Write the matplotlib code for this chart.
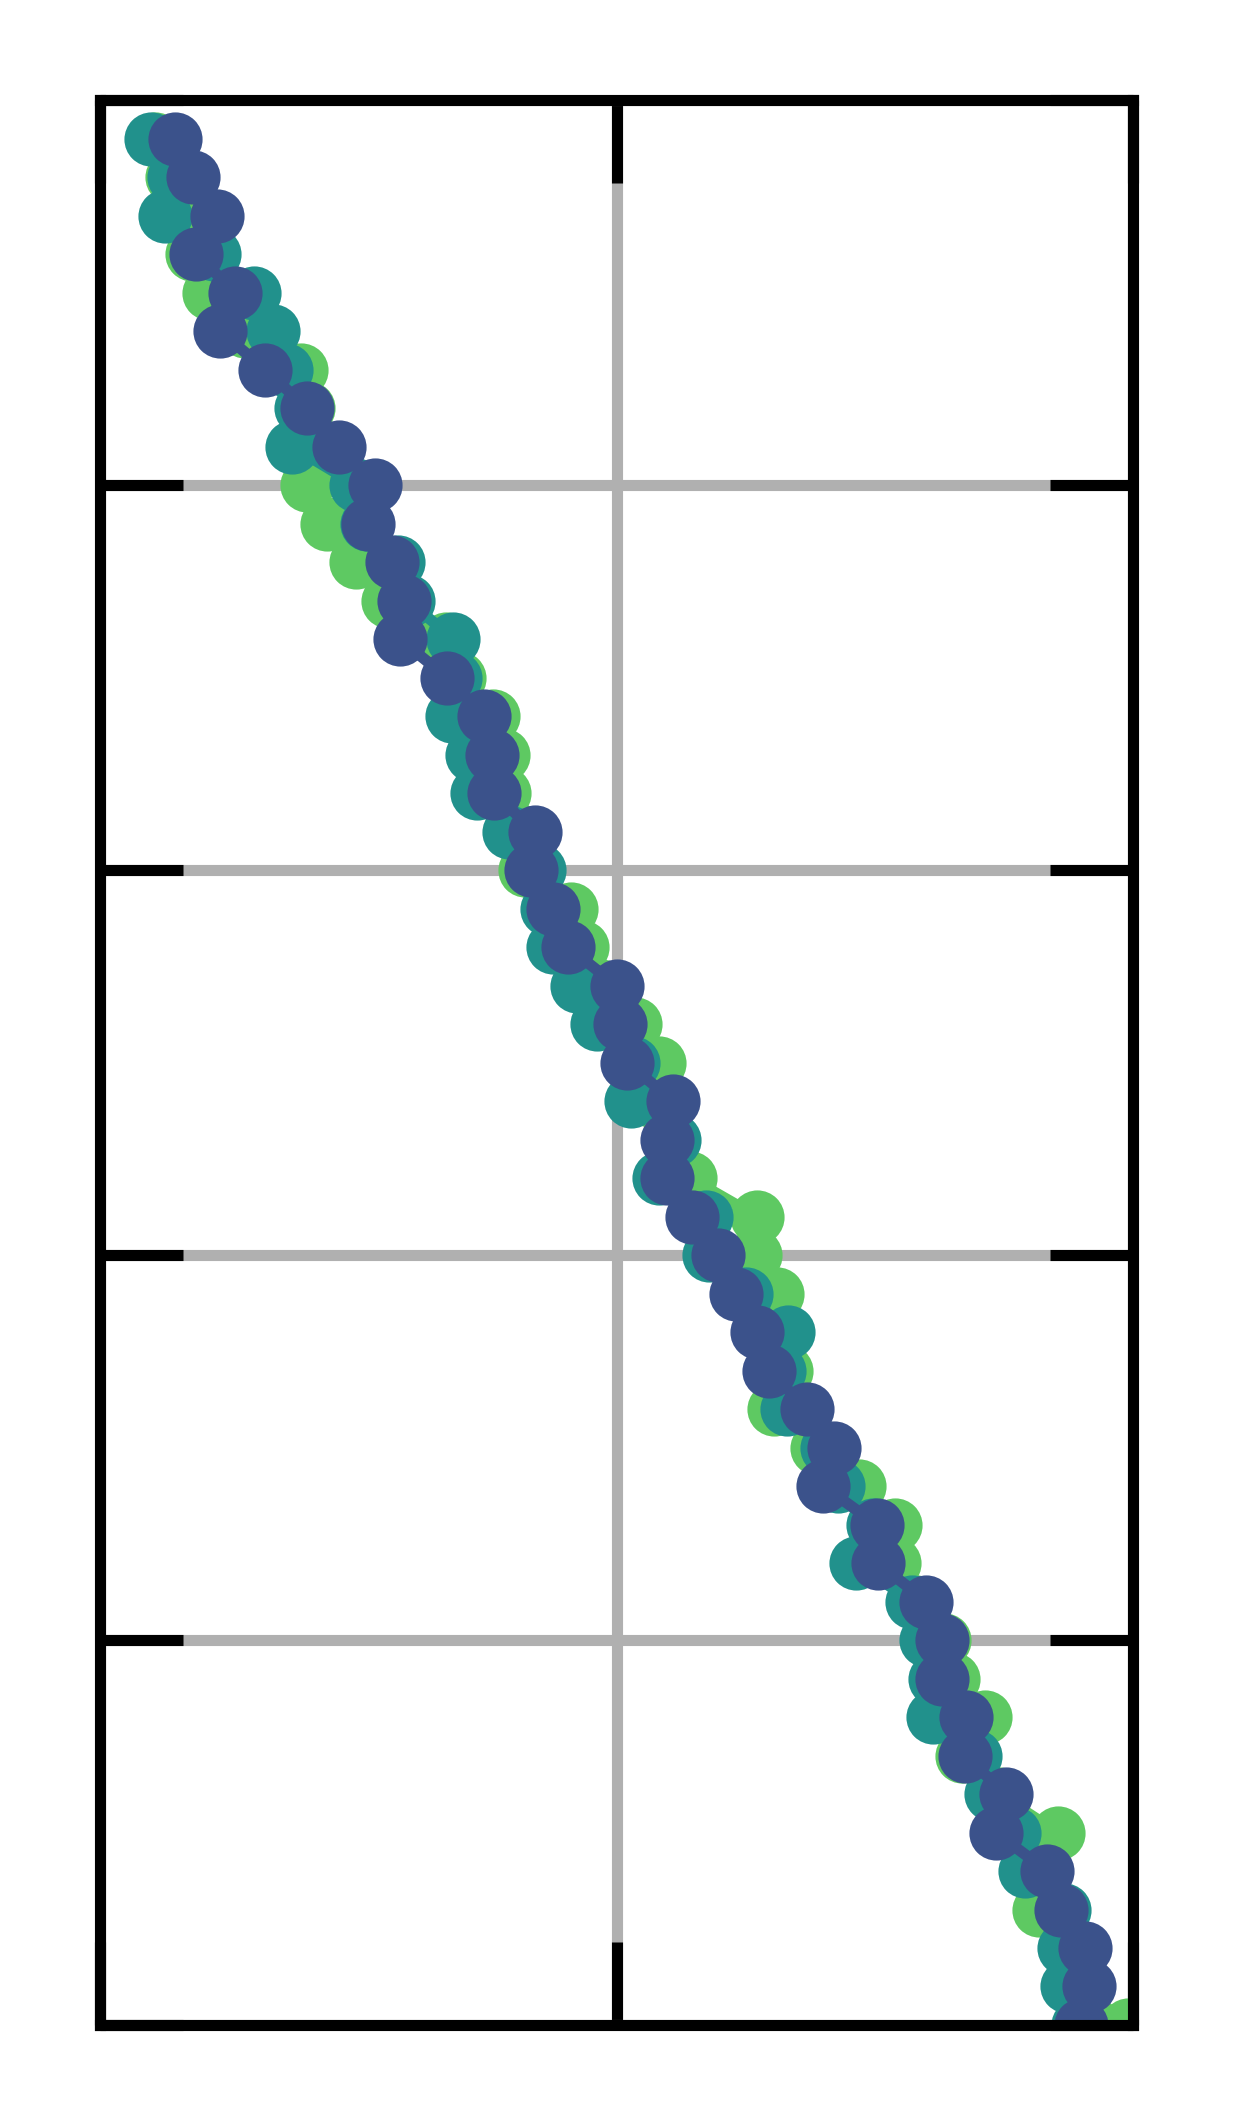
import matplotlib
matplotlib.use('Agg')
import matplotlib.pyplot as plt

# Row positions (y) shared by all three series
rows = [1, 2, 3, 4, 5, 6, 7, 8, 9, 10,
        11, 12, 13, 14, 15, 16, 17, 18, 19, 20,
        21, 22, 23, 24, 25, 26, 27, 28, 29, 30,
        31, 32, 33, 34, 35, 36, 37, 38, 39, 40,
        41, 42, 43, 44, 45, 46, 47, 48, 49, 50]

green_x = [5.3, 7.0, 9.7, 8.9, 10.6, 14.0, 19.5, 20.1, 21.0, 20.0,
           22.0, 24.8, 27.9, 33.5, 34.8, 38.0, 39.0, 39.1, 41.0, 41.1,
           45.6, 46.7, 48.5, 51.8, 54.1, 53.5, 55.0, 57.1, 63.6, 63.4,
           65.5, 64.5, 66.4, 65.2, 69.4, 73.5, 77.0, 76.9, 79.0, 81.7,
           82.6, 85.7, 83.4, 87.0, 92.7, 90.5, 90.9, 94.5, 95.0, 99.5]

teal_x = [4.9, 7.2, 6.3, 11.0, 14.9, 16.7, 18.0, 19.5, 18.6, 24.8,
          25.8, 28.8, 29.8, 34.2, 34.4, 34.1, 36.0, 36.5, 39.6, 42.5,
          43.3, 43.9, 46.2, 48.1, 51.6, 51.4, 55.6, 54.1, 58.7, 59.0,
          62.5, 66.6, 65.7, 66.5, 70.4, 71.4, 74.8, 73.2, 78.6, 80.0,
          80.8, 80.6, 84.7, 86.3, 88.5, 89.5, 93.3, 93.3, 93.6, 94.7]

blue_x = [7.3, 9.0, 11.3, 9.3, 13.1, 11.6, 16.0, 20.0, 23.1, 26.6,
          25.9, 28.3, 29.4, 29.0, 33.6, 37.2, 37.9, 38.1, 42.1, 41.7,
          43.9, 45.3, 50.0, 50.3, 51.0, 55.5, 54.9, 54.9, 57.3, 59.8,
          61.6, 63.6, 64.8, 68.4, 71.1, 70.0, 75.2, 75.3, 80.0, 81.5,
          81.5, 83.8, 83.7, 87.7, 86.7, 91.7, 93.0, 95.4, 95.7, 95.0]

x_ticks = [0, 50, 100]
y_ticks = [0, 10, 20, 30, 40, 50]

fig = plt.figure(figsize=(12.33, 21.25), dpi=100)
ax = fig.add_axes([100 / 1233, 100 / 2125, 1033 / 1233, 1925 / 2125])

for xs, color in [(green_x, '#5ec962'), (teal_x, '#21918c'), (blue_x, '#3b528b')]:
    ax.plot(xs, rows, '-o', color=color, linewidth=8, markersize=39,
            markeredgewidth=0, zorder=3)

ax.set_xlim(0, 100)
ax.set_ylim(50, 0)
ax.set_xticks(x_ticks)
ax.set_yticks(y_ticks)
ax.set_xticklabels([])
ax.set_yticklabels([])
ax.tick_params(direction='in', length=60, width=8, color='black',
               top=True, right=True, bottom=True, left=True)
ax.grid(True, color='#b0b0b0', linewidth=8, zorder=0)
ax.set_axisbelow(True)
for spine in ax.spines.values():
    spine.set_linewidth(8)
    spine.set_color('black')
    spine.set_zorder(5)

fig.savefig('out.png', dpi=100)
